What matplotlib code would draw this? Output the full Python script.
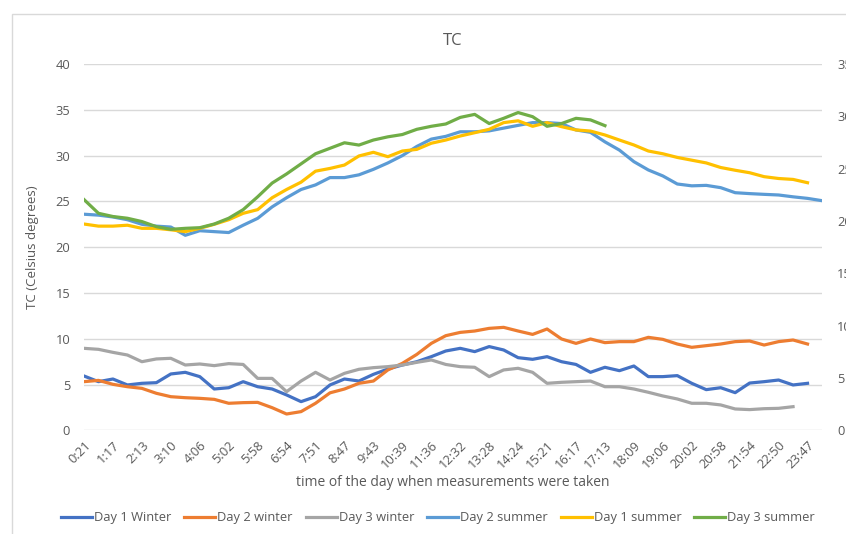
import numpy as np
import matplotlib
matplotlib.use("Agg")
import matplotlib.pyplot as plt
from matplotlib.patches import Rectangle

plt.rcParams['font.family'] = ['Open Sans', 'DejaVu Sans']

# tick labels (every second measurement is labelled)
time_labels = ["0:21", "1:17", "2:13", "3:10", "4:06", "5:02", "5:58", "6:54",
               "7:51", "8:47", "9:43", "10:39", "11:36", "12:32", "13:28", "14:24",
               "15:21", "16:17", "17:13", "18:09", "19:06", "20:02", "20:58",
               "21:54", "22:50", "23:47"]

day1_winter = [5.94, 5.32, 5.61, 4.96, 5.14, 5.21, 6.16, 6.34, 5.87, 4.52, 4.66, 5.32,
               4.77, 4.52, 3.87, 3.14, 3.68, 4.96, 5.61, 5.39, 6.12, 6.7, 7.14, 7.5,
               8.05, 8.67, 8.96, 8.6, 9.15, 8.78, 7.94, 7.76, 8.05, 7.5, 7.2, 6.34,
               6.89, 6.52, 7.03, 5.87, 5.87, 5.98, 5.14, 4.45, 4.66, 4.12, 5.17, 5.32,
               5.5, 4.96, 5.14]
day2_winter = [5.32, 5.46, 5.03, 4.77, 4.59, 4.05, 3.68, 3.57, 3.5, 3.39, 2.96, 3.03,
               3.06, 2.48, 1.79, 2.05, 2.96, 4.1, 4.52, 5.14, 5.39, 6.6, 7.32, 8.3,
               9.5, 10.34, 10.7, 10.85, 11.14, 11.25, 10.85, 10.48, 11.07, 9.98, 9.5, 9.98,
               9.58, 9.69, 9.69, 10.16, 9.94, 9.43, 9.07, 9.25, 9.43, 9.69, 9.76, 9.32,
               9.69, 9.87, 9.43]
day3_winter = [8.96, 8.85, 8.52, 8.23, 7.5, 7.8, 7.87, 7.14, 7.25, 7.07, 7.29, 7.2,
               5.68, 5.68, 4.23, 5.39, 6.34, 5.5, 6.23, 6.67, 6.85, 6.96, 7.14, 7.43,
               7.69, 7.2, 6.96, 6.89, 5.87, 6.6, 6.78, 6.34, 5.14, 5.25, 5.32, 5.39,
               4.77, 4.77, 4.52, 4.16, 3.76, 3.43, 2.96, 2.96, 2.78, 2.34, 2.27, 2.37,
               2.41, 2.59]
day2_summer = [23.6, 23.5, 23.3, 23.0, 22.5, 22.3, 22.2, 21.3, 21.8, 21.7, 21.6, 22.4,
               23.15, 24.4, 25.4, 26.3, 26.8, 27.6, 27.6, 27.9, 28.5, 29.2, 30.0, 31.0,
               31.8, 32.1, 32.6, 32.6, 32.7, 33.0, 33.3, 33.6, 33.6, 33.5, 32.8, 32.54,
               31.5, 30.6, 29.34, 28.43, 27.78, 26.9, 26.7, 26.75, 26.5, 25.95, 25.85, 25.77,
               25.7, 25.5, 25.33, 25.08]
day1_summer = [22.53, 22.3, 22.3, 22.4, 22.06, 22.06, 21.9, 21.7, 22.06, 22.5, 23.0, 23.7,
               24.1, 25.4, 26.3, 27.1, 28.3, 28.6, 28.97, 29.96, 30.36, 29.88, 30.5, 30.68,
               31.35, 31.7, 32.14, 32.5, 32.87, 33.6, 33.8, 33.2, 33.6, 33.16, 32.8, 32.68,
               32.25, 31.7, 31.16, 30.5, 30.2, 29.8, 29.5, 29.2, 28.7, 28.4, 28.13, 27.7,
               27.5, 27.4, 27.04]
day3_summer = [25.2, 23.7, 23.35, 23.16, 22.8, 22.24, 21.95, 22.06, 22.13, 22.53, 23.16, 24.1,
               25.5, 27.0, 28.0, 29.1, 30.2, 30.8, 31.4, 31.15, 31.7, 32.05, 32.3, 32.87,
               33.2, 33.45, 34.17, 34.5, 33.5, 34.07, 34.7, 34.25, 33.2, 33.5, 34.07, 33.9,
               33.27]

series = [
    ("Day 1 Winter", day1_winter, "#4472C4"),
    ("Day 2 winter", day2_winter, "#ED7D31"),
    ("Day 3 winter", day3_winter, "#A5A5A5"),
    ("Day 2 summer", day2_summer, "#5B9BD5"),
    ("Day 1 summer", day1_summer, "#FFC000"),
    ("Day 3 summer", day3_summer, "#70AD47"),
]

txt = "#595959"
fig = plt.figure(figsize=(8.46, 5.34), dpi=100)
# chart area border (top and left edge are visible in the crop)
fig.patches.append(Rectangle((12 / 846, -0.1), 2, (534 - 14) / 534 + 0.1,
                             transform=fig.transFigure, fill=False,
                             edgecolor="#D9D9D9", linewidth=1))

ax = fig.add_axes([84 / 846, 1 - 430.4 / 534, (822 - 84) / 846, (430.4 - 64) / 534])
for name, vals, col in series:
    ax.plot(np.arange(len(vals)), vals, color=col, linewidth=2.3, label=name,
            solid_joinstyle="round")

ax.set_xlim(0, 51)
ax.set_ylim(0, 40)
ax.set_yticks(range(0, 41, 5))
ax.set_xticks(np.arange(0, 52, 2))
ax.set_xticklabels(time_labels, rotation=45, ha="right", va="top",
                   rotation_mode="anchor")
ax.grid(axis="y", color="#D9D9D9", linewidth=1)
ax.set_axisbelow(True)
for s in ax.spines.values():
    s.set_visible(False)
ax.tick_params(length=0, colors=txt, labelsize=9.3)
ax.tick_params(axis="y", pad=10)
ax.tick_params(axis="x", pad=6)

# secondary axis on the right
ax2 = ax.twinx()
ax2.set_ylim(0, 35)
ax2.set_yticks(range(0, 36, 5))
for s in ax2.spines.values():
    s.set_visible(False)
ax2.tick_params(length=0, colors=txt, labelsize=9.3, pad=11)

ax.set_title("TC", color=txt, fontsize=12, pad=14)
ax.set_ylabel("TC (Celsius degrees)", color=txt, fontsize=9.5, labelpad=12)
ax.set_xlabel("time of the day when measurements were taken", color=txt,
              fontsize=10, labelpad=3)

fig.legend(loc="center", bbox_to_anchor=(438 / 846, 1 - 518 / 534), ncol=6,
           frameon=False, fontsize=9.3, handlelength=2.4, columnspacing=1.0,
           handletextpad=0.15, labelcolor=txt)

fig.savefig("out.png", dpi=100)
